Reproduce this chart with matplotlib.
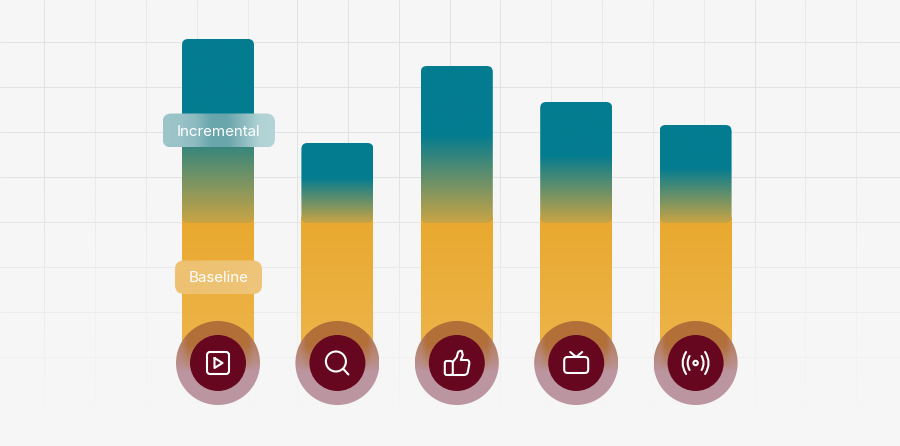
import numpy as np
import matplotlib
matplotlib.use("Agg")
import matplotlib.pyplot as plt
from matplotlib.colors import to_rgb
from matplotlib.patches import FancyBboxPatch, Circle, PathPatch
from matplotlib.path import Path

channels = ["Video", "Search", "Social", "TV", "Audio"]
baseline = [141, 141, 141, 141, 141]
incremental = [183, 79, 156, 120, 97]
label_incremental = "Incremental"
label_baseline = "Baseline"

grid_x = [44, 95, 146, 197, 248, 297, 348, 399, 450, 500, 551, 602, 653, 704, 755, 805, 856]
grid_x_strong = [44, 297, 348, 399, 450, 500, 755]
grid_y = [42, 87, 132, 177, 222, 267, 312, 357, 402]

BG = "#F6F6F6"
W, H = 900, 446
fig = plt.figure(figsize=(W/100, H/100), dpi=100, facecolor=BG)
pax = fig.add_axes([0, 0, 1, 1])
pax.set_xlim(0, W); pax.set_ylim(H, 0); pax.axis("off")

def lerp(a, b, t):
    a, b = np.array(to_rgb(a)), np.array(to_rgb(b))
    return a[None, :]*(1-t[:, None]) + b[None, :]*t[:, None]

for x in grid_x:
    pax.vlines(x, 0, H, color="#E1E1E1" if x in grid_x_strong else "#EAEAEA", lw=0.72, zorder=1)
pax.hlines(grid_y, 0, W, color="#E2E2E2", lw=0.72, zorder=1)
fade = np.zeros((H, 1, 4))
fade[..., :3] = to_rgb(BG)
fade[:, 0, 3] = np.clip((np.arange(H)-170)/250, 0, 1)
pax.imshow(fade, extent=(0, W, H, 0), aspect="auto", zorder=2)

PX0, STEP, BAR_W = 218.0, 119.4, 72
ZERO_PX = 363
R = 6
for i, (name, b, inc) in enumerate(zip(channels, baseline, incremental)):
    cx = PX0 + i*STEP
    top_b = ZERO_PX - b
    top = top_b - inc
    ys = np.linspace(0, 1, 200)
    g = lerp("#E9A92F", "#EDB54C", ys)[:, None, :]
    pax.imshow(g, extent=(cx-BAR_W/2, cx+BAR_W/2, ZERO_PX, top_b-5), aspect="auto", zorder=3)
    t = np.clip((ys-0.44)/0.56, 0, 1)
    g = lerp("#047C90", "#C9A444", t)[:, None, :]
    im = pax.imshow(g, extent=(cx-BAR_W/2, cx+BAR_W/2, top_b+1, top), aspect="auto", zorder=4)
    clip = FancyBboxPatch((cx-BAR_W/2+R, top+R), BAR_W-2*R, inc+1-2*R,
                          boxstyle=f"round,pad={R},rounding_size={R}",
                          transform=pax.transData, fc="none", ec="none")
    pax.add_patch(clip)
    im.set_clip_path(clip)
    n = 168
    xx, yy = np.meshgrid(np.linspace(-42, 42, n), np.linspace(-42, 42, n))
    v = np.clip((8 - yy)/26, 0, 1)**0.8
    side = np.clip((44 - np.abs(xx))/14, 0.55, 1)
    v = v*side
    ring = np.array(to_rgb("#BB96A0"))*(1-v[..., None]) + np.array(to_rgb("#B26F38"))*v[..., None]
    im = pax.imshow(ring, extent=(cx-42, cx+42, ZERO_PX+42, ZERO_PX-42), aspect="auto", zorder=5)
    c = Circle((cx, ZERO_PX), 42, transform=pax.transData, fc="none", ec="none")
    pax.add_patch(c); im.set_clip_path(c)
    pax.add_patch(Circle((cx, ZERO_PX), 28, fc="#66061F", ec="none", zorder=6))

def draw(path, cx, lw=1.5, fc="none"):
    verts, codes = path
    verts = np.array(verts, float) + [cx, ZERO_PX]
    pax.add_patch(PathPatch(Path(verts, codes), fc=fc, ec="white", lw=lw, zorder=7,
                            capstyle="round", joinstyle="round"))

M, L, C3, Z = Path.MOVETO, Path.LINETO, Path.CURVE3, Path.CLOSEPOLY

def rrect(x0, y0, x1, y1, r):
    v = [(x0+r, y0), (x1-r, y0), (x1, y0), (x1, y0+r), (x1, y1-r), (x1, y1), (x1-r, y1),
         (x0+r, y1), (x0, y1), (x0, y1-r), (x0, y0+r), (x0, y0), (x0+r, y0)]
    c = [M, L, C3, C3, L, C3, C3, L, C3, C3, L, C3, C3]
    return v, c

# play
cx = PX0
draw(rrect(-11, -11, 11, 11, 3), cx)
draw(([(-3.5, -5), (4.5, 0), (-3.5, 5), (-3.5, -5)], [M, L, L, L]), cx)
# search
cx = PX0 + STEP
pax.add_patch(Circle((cx-1.5, ZERO_PX-1.5), 10, fc="none", ec="white", lw=1.5, zorder=7))
draw(([(6, 6), (11, 11.5)], [M, L]), cx)
# thumb
cx = PX0 + 2*STEP
draw(rrect(-12, -2, -4, 12, 2), cx)
draw(([(-4, -1), (0, -6), (1, -10), (2, -13), (5, -12), (6, -8), (4, -3), (10, -3), (13, -3), (12.5, 1),
       (11, 9), (10.5, 12), (7, 12), (-4, 12)],
      [M, L, L, C3, C3, L, L, L, C3, C3, L, C3, C3, L]), cx)
# tv
cx = PX0 + 3*STEP
draw(rrect(-12, -6, 12, 10, 3.5), cx)
draw(([(-6, -11), (0, -6), (6, -11)], [M, L, L]), cx)
# broadcast
cx = PX0 + 4*STEP
pax.add_patch(Circle((cx, ZERO_PX), 2.2, fc="none", ec="white", lw=1.5, zorder=7))
for s in (-1, 1):
    draw(([(s*6, -7), (s*10, 0), (s*6, 7)], [M, C3, C3]), cx)
    draw(([(s*9.5, -11), (s*16.5, 0), (s*9.5, 11)], [M, C3, C3]), cx)

def pill(x0, x1, y0, y1, colors, text):
    xs = np.linspace(0, 1, len(colors))
    tt = np.linspace(0, 1, 220)
    arr = np.stack([np.interp(tt, xs, [to_rgb(c)[k] for c in colors]) for k in range(3)], axis=-1)[None, :, :]
    im = pax.imshow(arr, extent=(x0, x1, y1, y0), aspect="auto", zorder=8)
    r = 9
    p = FancyBboxPatch((x0+r, y0+r), x1-x0-2*r, y1-y0-2*r, boxstyle=f"round,pad={r},rounding_size={r}",
                       fc="none", ec="none", zorder=9)
    pax.add_patch(p); im.set_clip_path(p)
    pax.text((x0+x1)/2, (y0+y1)/2+1.0, text, color="white", fontsize=10.9, family="Inter",
             ha="center", va="center", zorder=10)

pill(162.5, 275, 113.5, 147.5, ["#9CC6CA", "#99C3C7", "#8DBBC0", "#69A6AC", "#69A6AC", "#8DBBC0", "#B0D2D5", "#B5D5D8"],
     label_incremental)
pill(175, 262, 260.5, 294, ["#EEC173", "#EEC273", "#EEC375", "#EFC57C"], label_baseline)

pax.set_xlim(0, W); pax.set_ylim(H, 0)
fig.savefig("out.png", dpi=100, facecolor=BG)
